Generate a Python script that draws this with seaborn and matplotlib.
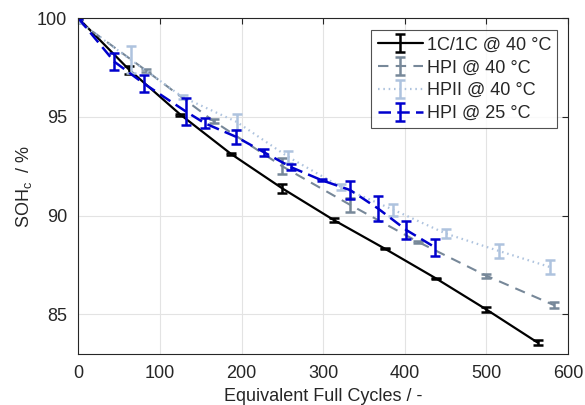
import numpy as np
import pandas as pd
import seaborn as sns
import matplotlib.pyplot as plt
from matplotlib.legend_handler import HandlerTuple

# 1C/1C @ 40 °C
efc_ref = [0, 62, 125, 187, 250, 313, 376, 438, 500, 563]
soh_ref = [100.0, 97.4, 95.12, 93.13, 91.38, 89.78, 88.32, 86.83, 85.25, 83.57]
err_ref = [0.05, 0.2, 0.05, 0.05, 0.25, 0.12, 0.03, 0.03, 0.13, 0.13]

# HPI @ 40 °C
efc_hpi40 = [0, 83, 166, 250, 333, 416, 500, 583]
soh_hpi40 = [99.85, 97.35, 94.78, 92.5, 90.55, 88.68, 86.96, 85.47]
err_hpi40 = [0.1, 0.08, 0.1, 0.4, 0.35, 0.05, 0.1, 0.15]

# HPII @ 40 °C
efc_hpii40 = [0, 64, 128, 194, 257, 322, 386, 450, 515, 578]
soh_hpii40 = [99.85, 97.9, 96.0, 94.75, 92.98, 91.45, 90.3, 89.1, 88.22, 87.4]
err_hpii40 = [0.1, 0.68, 0.1, 0.42, 0.3, 0.15, 0.3, 0.22, 0.35, 0.35]

# HPI @ 25 °C
efc_hpi25 = [0, 44, 80, 132, 155, 193, 228, 261, 298, 333, 367, 402, 437]
soh_hpi25 = [100.0, 97.8, 96.7, 95.27, 94.68, 94.0, 93.2, 92.45, 91.8, 91.3, 90.37, 89.27, 88.4]
err_hpi25 = [0.05, 0.44, 0.42, 0.68, 0.25, 0.36, 0.18, 0.15, 0.05, 0.45, 0.62, 0.45, 0.42]

labels = ['1C/1C @ 40 °C', 'HPI @ 40 °C', 'HPII @ 40 °C', 'HPI @ 25 °C']

sns.set_style('white')
plt.rcParams['font.family'] = ['Liberation Sans', 'DejaVu Sans']
plt.rcParams['mathtext.fontset'] = 'custom'
plt.rcParams['mathtext.rm'] = 'Liberation Sans'

fig = plt.figure(figsize=(5.85, 4.05), dpi=100)
ax = fig.add_axes([0.134, 0.126, 0.837, 0.829])

series = [
    (efc_ref, soh_ref, err_ref, 'black', '-', 1.6),
    (efc_hpi40, soh_hpi40, err_hpi40, '#778899', (0, (5, 3.5)), 1.5),
    (efc_hpii40, soh_hpii40, err_hpii40, '#aec3de', (0, (0.7, 1.7)), 1.6),
    (efc_hpi25, soh_hpi25, err_hpi25, '#0000cd', (0, (5, 2.5)), 1.8),
]

handles = []
for (x, y, e, c, ls, lw), lab in zip(series, labels):
    df = pd.DataFrame({'efc': x, 'soh': y})
    sns.lineplot(data=df, x='efc', y='soh', ax=ax, color=c, lw=lw, legend=False)
    line = ax.lines[-1]
    line.set_linestyle(ls)
    eb = ax.errorbar(x, y, yerr=e, fmt='none', ecolor=c, elinewidth=1.8,
                     capsize=3.5, capthick=1.8)
    handles.append((line, eb))

ax.set_xlim(0, 600)
ax.set_ylim(83, 100)
ax.set_xticks([0, 100, 200, 300, 400, 500, 600])
ax.set_yticks([85, 90, 95, 100])
ax.grid(True, color='#e3e3e3', lw=0.8)
ax.set_axisbelow(True)
for s in ax.spines.values():
    s.set_color('#262626')
    s.set_linewidth(0.8)
ax.tick_params(direction='in', top=True, right=True, labelsize=13,
               length=4, width=0.8, color='#262626', pad=8)
ax.set_xlabel('Equivalent Full Cycles / -', fontsize=13, labelpad=4)
ax.set_ylabel('SOH$_\\mathregular{c}$  / %', fontsize=13, labelpad=2)

leg = ax.legend(handles, labels, handler_map={tuple: HandlerTuple(ndivide=1)},
                loc='upper right', bbox_to_anchor=(0.978, 0.964), fontsize=13,
                frameon=True, fancybox=False, edgecolor='#262626',
                handlelength=2.5, handletextpad=0.2, borderpad=0.35,
                labelspacing=0.32, borderaxespad=0)
leg.get_frame().set_linewidth(0.8)

fig.savefig('out.png', dpi=100)
